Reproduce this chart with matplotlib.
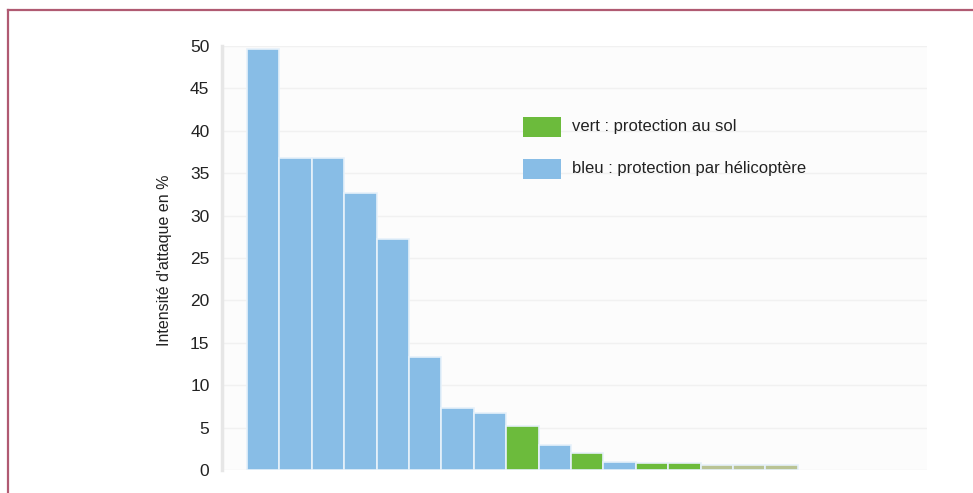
import matplotlib.pyplot as plt
from matplotlib.lines import Line2D
from matplotlib.patches import Rectangle

# attack intensity per site, sorted from strongest to weakest
values = [49.6, 36.8, 36.8, 32.7, 27.2, 13.3, 7.3, 6.7, 5.2, 2.9, 2.0, 0.9, 0.8, 0.8, 0.6, 0.6, 0.6]
# g = ground protection, b = helicopter protection, o = ground (faded)
groups = ["b", "b", "b", "b", "b", "b", "b", "b", "g", "b", "g", "b", "g", "g", "o", "o", "o"]
yticks = [0, 5, 10, 15, 20, 25, 30, 35, 40, 45, 50]
legend_labels = ["vert : protection au sol", "bleu : protection par hélicoptère"]

palette = {"b": "#88bde6", "g": "#6cbb3c", "o": "#b9c394"}

plt.rcParams["font.family"] = ["Liberation Sans", "DejaVu Sans"]

fig = plt.figure(figsize=(9.73, 4.93), dpi=100)
W, H = 973, 493

# plot area in pixel terms: x 222..927, y 46..470
ax = fig.add_axes([222 / W, (H - 470) / H, 705 / W, 424 / H])
ax.set_facecolor("#fcfcfc")

x = list(range(len(values)))
ax.bar(x, values, width=1.0, color=[palette[g] for g in groups],
       edgecolor="#e6f1fa", linewidth=1.2, zorder=3)

ax.set_ylim(0, 50)
ax.set_xlim(-1.27, 20.49)
ax.set_yticks(yticks)
ax.set_yticklabels([str(t) for t in yticks], fontsize=12.5, color="#222222")
ax.set_xticks([])
ax.tick_params(axis="y", length=0, pad=9)
ax.yaxis.grid(True, color="#f1f1f1", linewidth=1.0, zorder=0)

for side in ["top", "right", "bottom"]:
    ax.spines[side].set_visible(False)
ax.spines["left"].set_color("#e6e6e6")
ax.spines["left"].set_linewidth(2.5)

fig.text(164 / W, 1 - 260 / H, "Intensité d'attaque en %", rotation=90,
         ha="center", va="center", fontsize=11.5, color="#222222")

# legend drawn as swatches + labels
legend_colors = [palette["g"], palette["b"]]
legend_y = [127, 169]
for col, lab, yc in zip(legend_colors, legend_labels, legend_y):
    fig.patches.append(Rectangle((523 / W, 1 - (yc + 10) / H), 38 / W, 20 / H,
                                 transform=fig.transFigure, facecolor=col,
                                 edgecolor="none", zorder=5))
    fig.text(572 / W, 1 - yc / H, lab, ha="left", va="center",
             fontsize=12, color="#222222")

# page frame: top and left rule
frame_col = "#b05a72"
fig.add_artist(Line2D([8 / W, 1.0], [1 - 10 / H, 1 - 10 / H],
                      transform=fig.transFigure, color=frame_col, linewidth=1.6))
fig.add_artist(Line2D([8 / W, 8 / W], [0.0, 1 - 10 / H],
                      transform=fig.transFigure, color=frame_col, linewidth=1.6))

fig.savefig("out.png", dpi=100, facecolor="white")
